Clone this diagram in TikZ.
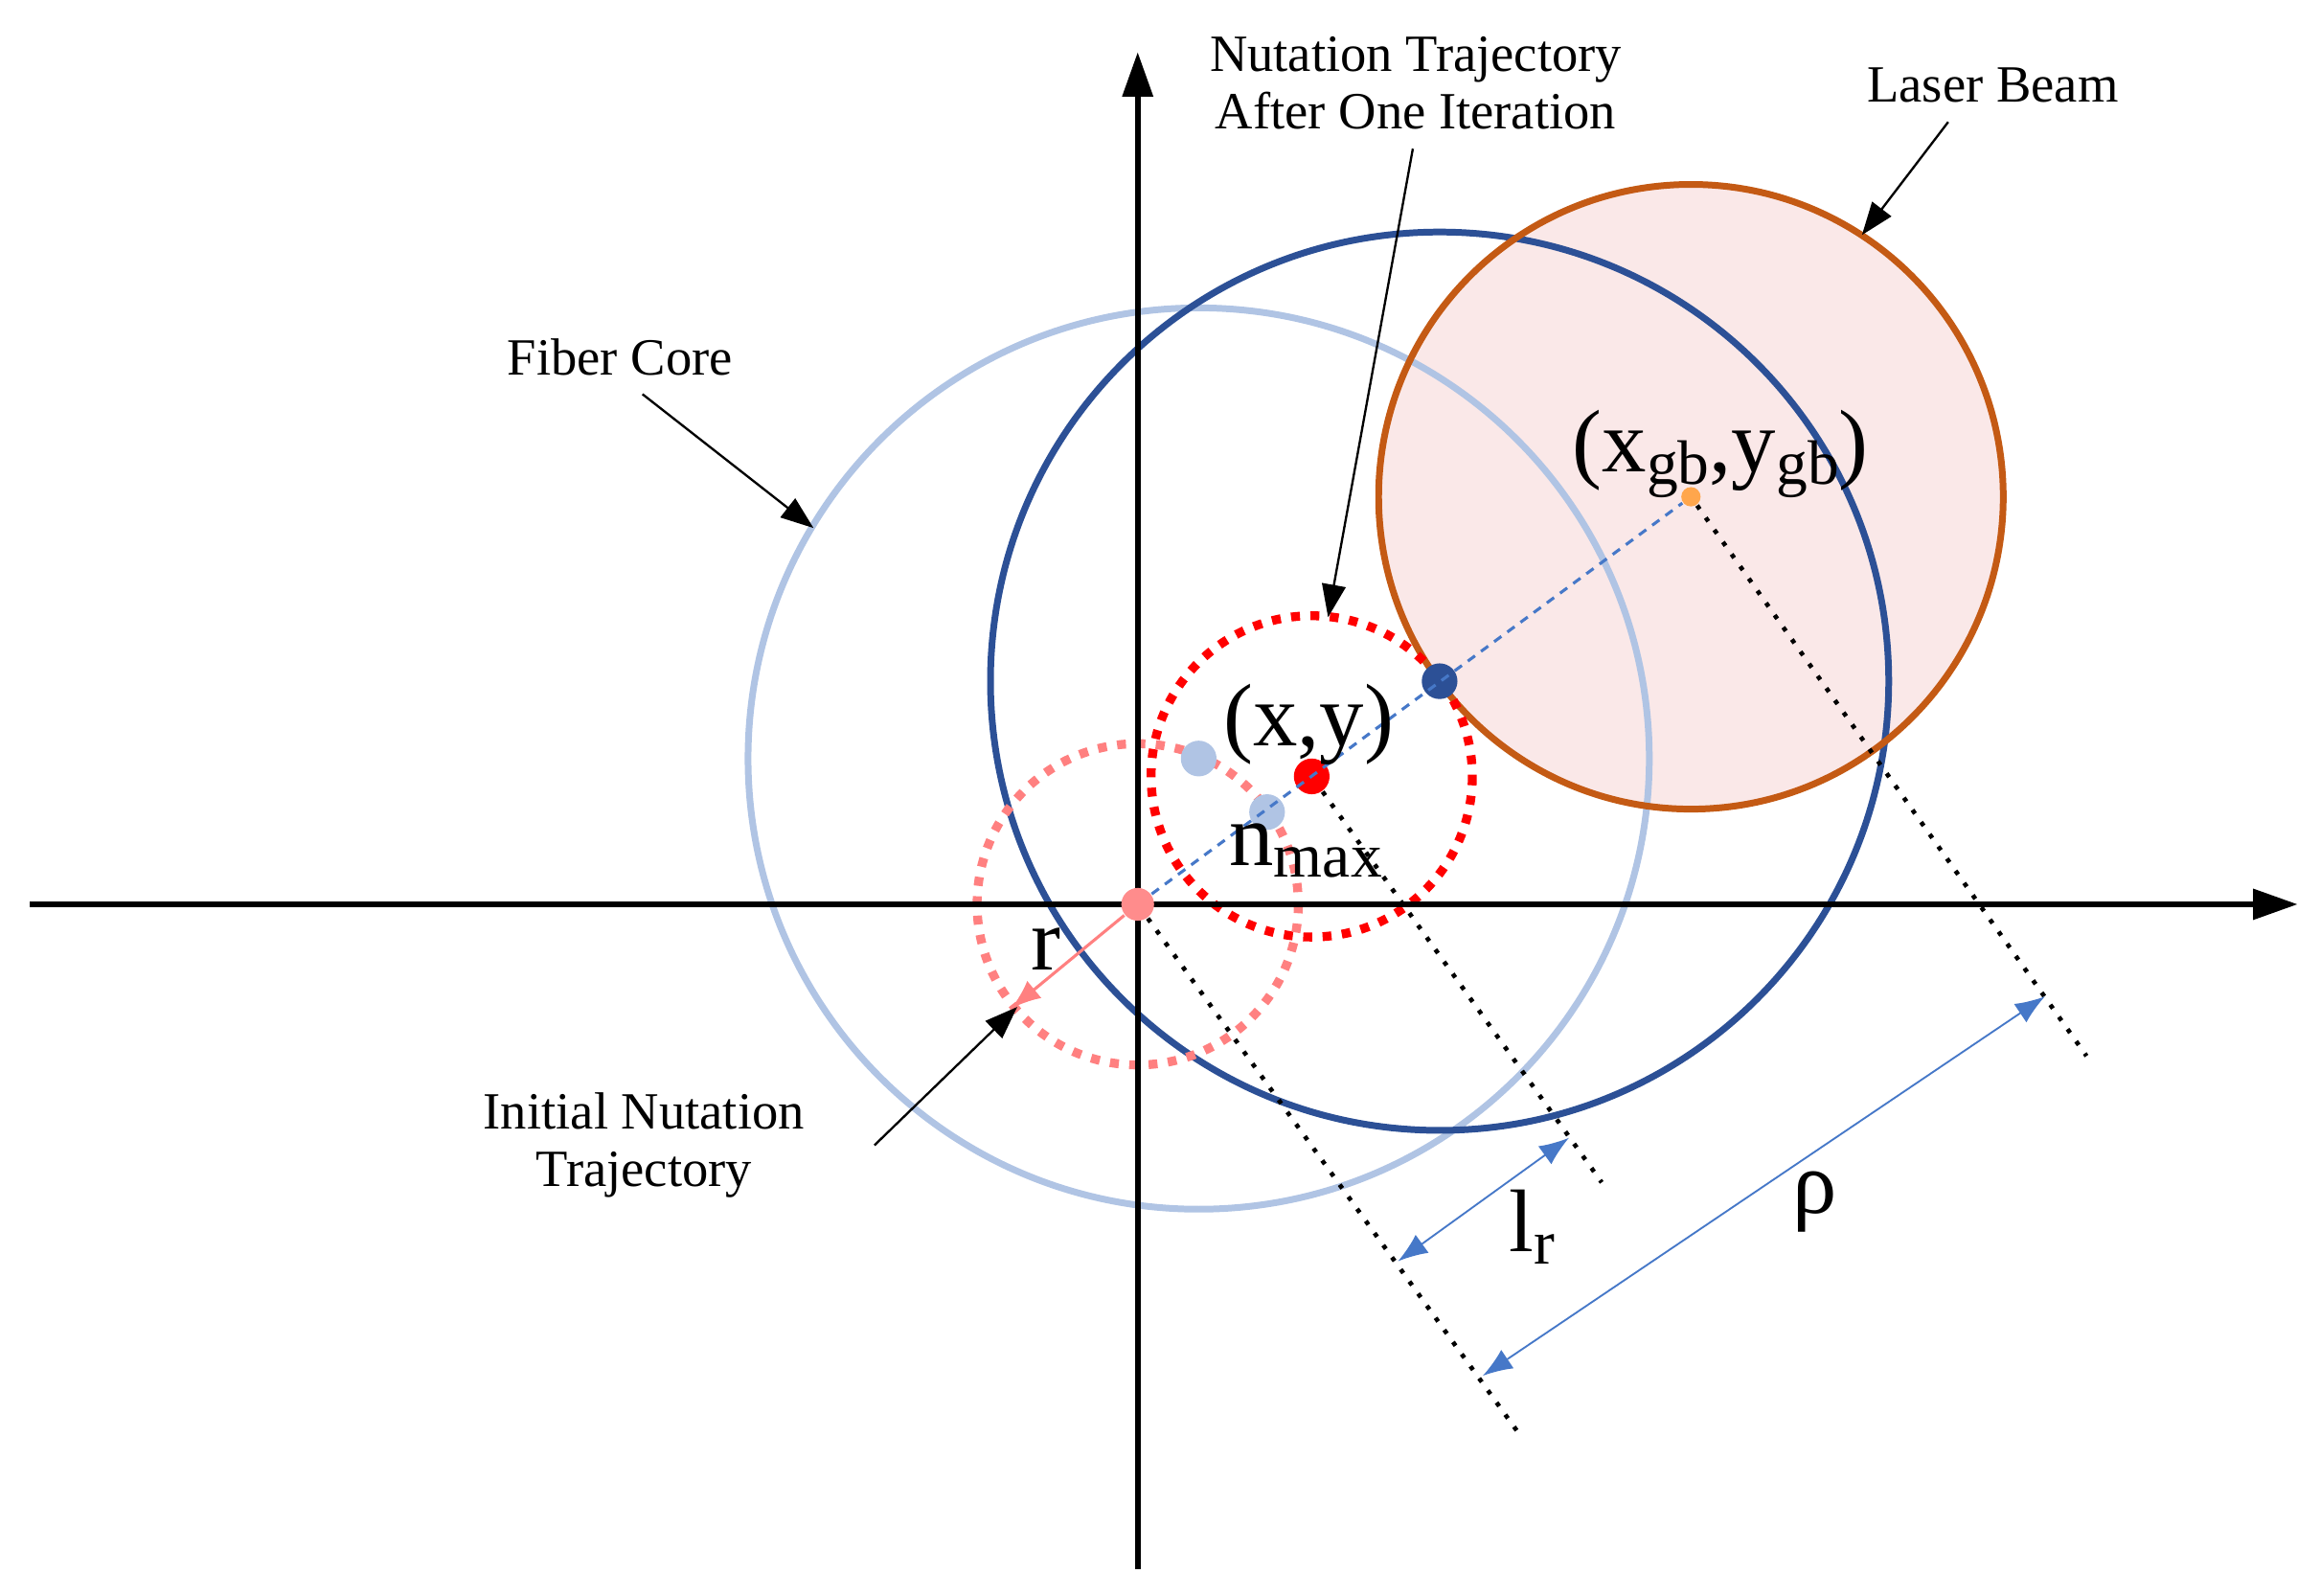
\documentclass[tikz,border=0pt]{standalone}
\usepackage{fontspec}
\setmainfont{Liberation Serif}
\usetikzlibrary{arrows.meta, positioning}
\definecolor{lightcore}{RGB}{176,196,228}
\definecolor{darkcore}{RGB}{44,80,150}
\definecolor{beam}{RGB}{196,90,20}
\definecolor{beamfill}{RGB}{250,232,232}
\definecolor{dimblue}{RGB}{70,120,200}
\begin{document}
\begin{tikzpicture}[x=0.1mm, y=-0.1mm,
every node/.style = {font=\fontsize{10}{11}\selectfont, align=center},
axis/.style = {line width=0.4mm, -{Triangle[length=3mm,width=2mm]}},
dot/.style = {circle, fill, inner sep=0pt, minimum size=#1},
pointer/.style = {-{Triangle[length=2.2mm,width=1.6mm]}, line width=0.15mm},
guide/.style = {dotted, line width=0.3mm},
dim/.style = {dimblue, {Latex[length=2mm]}-{Latex[length=2mm]}, line width=0.12mm},
big/.style = {font=\fontsize{17}{17}\selectfont},
                    ]
\useasboundingbox (0,0) rectangle (1560,1073);
% circles
\fill[beamfill] (1137,334) circle (210);
\draw[lightcore, line width=0.45mm] (806,510) circle (303);
\draw[darkcore, line width=0.45mm] (968,458) circle (302);
\draw[beam, line width=0.45mm] (1137,334) circle (210);
\draw[red, dotted, line width=0.6mm] (882,522) circle (108);
\draw[red!50, dotted, line width=0.6mm] (765,608) circle (108);
% axes
\coordinate (xs) at (20,608);
\coordinate (xe) at (1545,608);
\coordinate (ys) at (765,1055);
\coordinate (ye) at (765,35);
\draw[axis] (xs) -- (xe);
\draw[axis] (ys) -- (ye);
% points
\node (o)  [dot=2.2mm, fill=red!45] at (765,608) {};
\node (c1) [dot=2.4mm, fill=lightcore] at (806,510) {};
\node (c2) [dot=2.4mm, fill=lightcore] at (852,546) {};
\node (xy) [dot=2.4mm, fill=red] at (882,522) {};
\node (m)  [dot=2.4mm, fill=darkcore] at (968,458) {};
\node (gb) [dot=1.3mm, fill=orange!70] at (1137,334) {};
\draw[dimblue, dashed, dash pattern=on 0.6mm off 0.5mm, line width=0.2mm] (o) -- (gb);
\coordinate (rend) at (680,678);
\draw[red!50, -{Latex[length=2mm]}, line width=0.2mm] (o) -- (rend);
% guides
\coordinate (g1) at (1020,962);
\coordinate (g2) at (1077,795);
\coordinate (g3) at (1403,710);
\draw[guide] (o) -- (g1);
\draw[guide] (xy) -- (g2);
\draw[guide] (gb) -- (g3);
\coordinate (l1) at (940,848);
\coordinate (l2) at (1055,765);
\coordinate (p1) at (997,925);
\coordinate (p2) at (1375,670);
\draw[dim] (l1) -- (l2);
\draw[dim] (p1) -- (p2);
% labels
\node (lxy) [big] at (880,487) {(x,y)};
\node (lnm) [big] at (878,572) {n\raisebox{-0.3ex}{\fontsize{12}{12}\selectfont max}};
\node (lr)  [big] at (703,638) {r};
\node (llr) [big] at (1030,825) {l\raisebox{-0.3ex}{\fontsize{12}{12}\selectfont r}};
\node (lrho) [big] at (1220,808) {ρ};
\node (lgb) [big] at (1157,305) {(x\raisebox{-0.3ex}{\fontsize{12}{12}\selectfont gb},y\raisebox{-0.3ex}{\fontsize{12}{12}\selectfont gb})};
% annotations
\node (fc) at (417,240) {Fiber Core};
\node (nt) at (952,56) {Nutation Trajectory\\After One Iteration};
\node (lb) at (1340,57) {Laser Beam};
\node (it) at (433,770) {Initial Nutation\\Trajectory};
\coordinate (fca) at (547,355);
\coordinate (nta) at (893,415);
\coordinate (lba) at (1252,158);
\coordinate (its) at (588,770);
\coordinate (ita) at (684,677);
\draw[pointer] (432,265) -- (fca);
\draw[pointer] (950,100) -- (nta);
\draw[pointer] (1310,82) -- (lba);
\draw[pointer] (its) -- (ita);
\end{tikzpicture}
\end{document}
